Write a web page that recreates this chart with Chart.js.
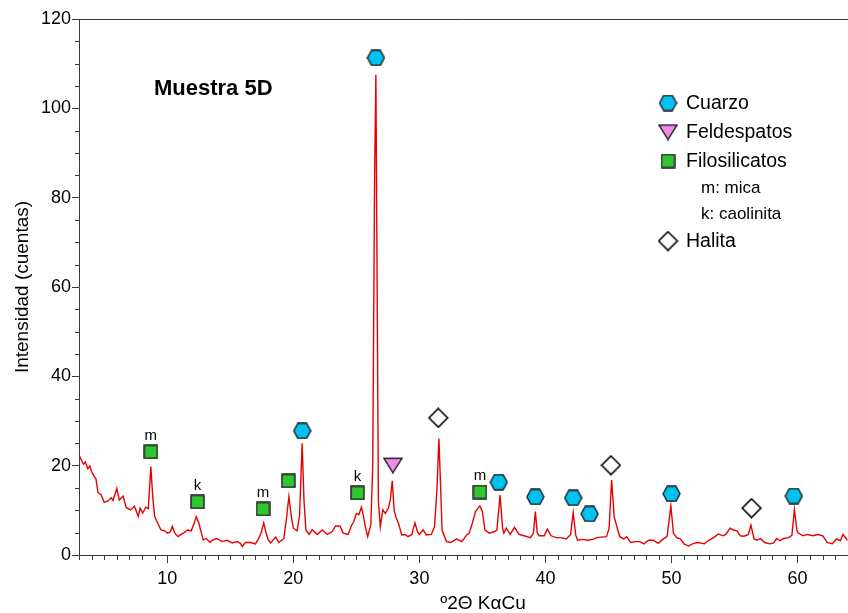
<!DOCTYPE html>
<html>
<head>
<meta charset="utf-8">
<title>Muestra 5D</title>
<script src="https://cdn.jsdelivr.net/npm/chart.js@4.4.1/dist/chart.umd.min.js"></script>
<style>
  html, body { margin: 0; padding: 0; background: #fff; }
  #xrdChart { display: block; }
</style>
</head>
<body>
<canvas id="xrdChart" width="848" height="613"></canvas>
<script>

// difractograma (grados 2theta / cuentas)
var angulo = [
  3.0, 3.2, 3.35, 3.5, 3.7, 3.85, 4.0, 4.2, 4.35, 4.5, 4.75, 5.0, 5.3, 5.55, 5.7, 6.0, 6.2, 6.5, 6.75, 7.1,
  7.4, 7.7, 7.85, 8.05, 8.3, 8.5, 8.7, 8.85, 9.0, 9.25, 9.5, 9.8, 10.05, 10.25, 10.4, 10.6, 10.85, 11.1, 11.3, 11.6,
  11.9, 12.1, 12.3, 12.5, 12.7, 12.85, 13.1, 13.4, 13.55, 13.95, 14.35, 14.75, 15.15, 15.55, 15.8, 15.95, 16.2, 16.6, 17.0, 17.25,
  17.45, 17.65, 17.85, 18.0, 18.2, 18.6, 18.85, 19.25, 19.45, 19.65, 19.85, 20.0, 20.3, 20.5, 20.7, 20.85, 21.0, 21.25, 21.5, 21.9,
  22.3, 22.7, 23.1, 23.35, 23.7, 23.95, 24.35, 24.6, 24.8, 25.0, 25.2, 25.4, 25.55, 25.7, 25.9, 26.15, 26.3, 26.45, 26.55, 26.65,
  26.75, 26.9, 27.1, 27.3, 27.55, 27.7, 27.85, 28.0, 28.15, 28.35, 28.6, 28.85, 29.1, 29.4, 29.65, 29.85, 30.0, 30.3, 30.55, 30.95,
  31.2, 31.4, 31.55, 31.7, 31.8, 32.15, 32.5, 32.95, 33.35, 33.55, 33.75, 33.95, 34.2, 34.45, 34.8, 35.0, 35.2, 35.55, 35.9, 36.15,
  36.4, 36.6, 36.7, 36.9, 37.2, 37.55, 37.9, 38.3, 38.8, 39.05, 39.2, 39.35, 39.5, 39.9, 40.15, 40.45, 40.85, 41.25, 41.65, 42.0,
  42.2, 42.4, 42.55, 42.95, 43.35, 43.75, 44.1, 44.4, 44.85, 45.05, 45.25, 45.45, 45.7, 45.9, 46.2, 46.45, 46.75, 47.15, 47.5, 47.8,
  48.2, 48.55, 48.95, 49.35, 49.65, 49.95, 50.15, 50.4, 50.7, 51.0, 51.35, 51.75, 52.1, 52.6, 52.95, 53.35, 53.7, 54.1, 54.3, 54.65,
  54.9, 55.2, 55.45, 55.75, 56.1, 56.3, 56.55, 56.8, 57.05, 57.4, 57.8, 58.1, 58.35, 58.6, 58.9, 59.3, 59.55, 59.75, 59.95, 60.05,
  60.45, 60.8, 61.2, 61.6, 62.0, 62.35, 62.75, 63.1, 63.4, 63.6, 63.95
];
var cuentas = [
  22.4, 21.2, 20.3, 20.8, 19.3, 19.9, 18.7, 17.6, 17.0, 14.0, 13.5, 11.8, 12.1, 12.8, 12.2, 14.9, 12.3, 13.2, 10.6, 10.1,
  10.9, 8.6, 10.5, 9.4, 10.7, 10.4, 19.8, 13.0, 8.6, 7.1, 5.6, 5.4, 4.9, 5.2, 6.4, 4.9, 4.1, 4.6, 4.9, 5.6,
  5.4, 6.8, 8.6, 7.2, 5.0, 3.4, 3.7, 2.8, 3.3, 3.7, 3.0, 3.3, 2.7, 3.0, 2.6, 1.9, 2.8, 2.8, 2.5, 3.7,
  5.0, 7.2, 4.8, 3.5, 2.7, 4.0, 2.8, 3.7, 8.0, 13.1, 8.5, 6.0, 5.4, 9.0, 25.0, 12.0, 5.6, 4.6, 5.7, 4.6,
  5.6, 4.6, 5.3, 6.5, 6.5, 4.9, 4.6, 6.5, 7.5, 9.3, 9.0, 10.7, 9.0, 6.5, 4.1, 6.8, 20.0, 85.0, 107.5, 60.0,
  12.0, 6.3, 10.1, 9.3, 10.5, 12.5, 16.6, 10.0, 8.4, 7.0, 4.5, 4.6, 4.1, 4.6, 7.2, 5.2, 4.6, 5.6, 4.5, 4.6,
  6.3, 15.0, 26.1, 14.0, 5.6, 3.0, 2.8, 3.6, 3.0, 3.7, 4.5, 4.9, 7.1, 9.7, 11.0, 9.7, 5.6, 4.9, 5.2, 5.6,
  13.4, 6.0, 4.9, 6.0, 4.6, 6.2, 4.6, 4.3, 3.9, 4.9, 9.7, 5.0, 4.3, 4.3, 5.8, 4.3, 3.9, 3.9, 3.6, 4.6,
  9.5, 4.5, 3.3, 3.5, 3.3, 3.5, 3.9, 4.0, 4.1, 6.0, 16.8, 8.6, 6.0, 4.1, 3.6, 4.1, 2.8, 3.0, 3.0, 2.5,
  3.3, 3.3, 2.6, 3.6, 4.1, 11.0, 4.9, 3.9, 3.6, 2.5, 2.0, 2.6, 2.8, 2.5, 3.3, 3.9, 4.7, 4.3, 4.6, 6.0,
  5.6, 5.4, 4.3, 4.2, 4.6, 6.7, 3.6, 3.3, 3.7, 2.8, 2.5, 2.7, 3.7, 3.2, 3.7, 3.9, 4.4, 10.2, 5.5, 4.9,
  4.3, 4.6, 4.3, 4.6, 4.3, 2.8, 2.5, 3.6, 3.2, 4.6, 3.3
];

// picos identificados
var cuarzoX = [20.7, 26.55, 36.3, 39.2, 42.2, 43.5, 50.0, 59.7];
var cuarzoY = [27.8, 111.3, 16.3, 13.0, 12.8, 9.2, 13.7, 13.2];
var feldX = [27.9];
var feldY = [20.1];
var filoX = [8.7, 12.4, 17.6, 19.6, 25.1, 34.8];
var filoY = [23.1, 11.9, 10.3, 16.6, 13.9, 14.1];
var filoTag = ['m', 'k', 'm', '', 'k', 'm'];
var halitaX = [31.5, 45.2, 56.35];
var halitaY = [30.7, 20.1, 10.5];

var nombres = ['Cuarzo', 'Feldespatos', 'Filosilicatos', 'Halita'];
var notasFilo = ['m: mica', 'k: caolinita'];

var marcasX = [10, 20, 30, 40, 50, 60];
var marcasY = [0, 20, 40, 60, 80, 100, 120];
var pasoMenorX = 1;
var pasoMenorY = 5;

var fuente = '"Liberation Sans", Arial, sans-serif';
var colorEje = '#3a3a3a';

function pares(xs, ys){
  return xs.map(function(x, i){ return {x: x, y: ys[i]}; });
}

// simbolos dibujados en un canvas pequeno
function simbolo(tipo){
  var c = document.createElement('canvas');
  var w, h;
  if (tipo === 'hex'){ w = 19; h = 17; }
  else if (tipo === 'tri'){ w = 20; h = 17; }
  else if (tipo === 'rombo'){ w = 21; h = 21; }
  else { w = 15; h = 15; }
  c.width = w; c.height = h;
  var g = c.getContext('2d');
  g.lineWidth = 1.4;
  g.strokeStyle = '#1a1a1a';
  g.beginPath();
  if (tipo === 'hex'){
    g.moveTo(1, h/2); g.lineTo(w*0.27, 1); g.lineTo(w*0.73, 1);
    g.lineTo(w-1, h/2); g.lineTo(w*0.73, h-1); g.lineTo(w*0.27, h-1);
    g.fillStyle = '#00c2f2';
  } else if (tipo === 'tri'){
    g.moveTo(1, 1.5); g.lineTo(w-1, 1.5); g.lineTo(w/2, h-1);
    g.fillStyle = '#ef8ced';
  } else if (tipo === 'rombo'){
    g.lineWidth = 1.6;
    g.strokeStyle = '#000';
    g.moveTo(w/2, 1.2); g.lineTo(w-1.2, h/2); g.lineTo(w/2, h-1.2); g.lineTo(1.2, h/2);
    g.fillStyle = '#ffffff';
  } else {
    g.rect(1, 1, w-2, h-2);
    g.fillStyle = '#33c633';
  }
  g.closePath();
  g.fill();
  g.stroke();
  return c;
}

var simHex = simbolo('hex');
var simTri = simbolo('tri');
var simCuad = simbolo('cuad');
var simRombo = simbolo('rombo');

var extras = {
  id: 'extras',
  afterDraw: function(chart){
    var ctx = chart.ctx;
    var a = chart.chartArea;
    var sx = chart.scales.x, sy = chart.scales.y;
    ctx.save();

    // linea superior del marco
    ctx.strokeStyle = colorEje;
    ctx.lineWidth = 1;
    ctx.beginPath();
    ctx.moveTo(a.left, a.top + 0.5);
    ctx.lineTo(a.right, a.top + 0.5);
    ctx.stroke();

    // marcas menores
    ctx.beginPath();
    for (var v = Math.ceil(sx.min); v <= sx.max; v += pasoMenorX){
      if (marcasX.indexOf(v) >= 0) continue;
      var px = Math.round(sx.getPixelForValue(v)) + 0.5;
      ctx.moveTo(px, a.bottom); ctx.lineTo(px, a.bottom + 5);
    }
    for (var w = sy.min; w <= sy.max; w += pasoMenorY){
      if (marcasY.indexOf(w) >= 0) continue;
      var py = Math.round(sy.getPixelForValue(w)) + 0.5;
      ctx.moveTo(a.left, py); ctx.lineTo(a.left - 4, py);
    }
    ctx.stroke();

    ctx.fillStyle = '#000';
    ctx.textBaseline = 'middle';

    // titulo de la muestra
    ctx.font = 'bold 22px ' + fuente;
    ctx.textAlign = 'left';
    ctx.fillText('Muestra 5D', a.left + 75, a.top + 70);

    // titulo eje x
    ctx.font = '19px ' + fuente;
    ctx.textAlign = 'center';
    ctx.fillText('º2Θ KαCu', a.left + 404, 604);

    // etiquetas m / k sobre los filosilicatos
    ctx.font = '15px ' + fuente;
    var meta = chart.getDatasetMeta(3);
    meta.data.forEach(function(p, i){
      if (filoTag[i]) ctx.fillText(filoTag[i], p.x, p.y - 16);
    });

    // leyenda
    var lx = 668, tx = 686;
    var filas = [[simHex, nombres[0], 103], [simTri, nombres[1], 132], [simCuad, nombres[2], 161], [simRombo, nombres[3], 241]];
    ctx.textAlign = 'left';
    ctx.font = '19.5px ' + fuente;
    filas.forEach(function(f){
      ctx.drawImage(f[0], lx - f[0].width/2, f[2] - f[0].height/2);
      ctx.fillText(f[1], tx, f[2] + 1);
    });
    ctx.font = '17px ' + fuente;
    ctx.fillText(notasFilo[0], 701, 188);
    ctx.fillText(notasFilo[1], 701, 214);

    ctx.restore();
  }
};

Chart.defaults.font.family = fuente;

var ctx = document.getElementById('xrdChart').getContext('2d');
var chart = new Chart(ctx, {
  type: 'scatter',
  data: {
    datasets: [
      {
        label: 'Muestra 5D',
        data: pares(angulo, cuentas),
        showLine: true,
        borderColor: 'rgb(232,0,0)',
        borderWidth: 1.4,
        pointRadius: 0,
        tension: 0,
        order: 5
      },
      { label: nombres[0], data: pares(cuarzoX, cuarzoY), pointStyle: simHex, pointRadius: 8, order: 1 },
      { label: nombres[1], data: pares(feldX, feldY), pointStyle: simTri, pointRadius: 8, order: 1 },
      { label: nombres[2], data: pares(filoX, filoY), pointStyle: simCuad, pointRadius: 8, order: 1 },
      { label: nombres[3], data: pares(halitaX, halitaY), pointStyle: simRombo, pointRadius: 8, order: 1 }
    ]
  },
  options: {
    responsive: false,
    animation: false,
    layout: { autoPadding: false, padding: { top: 19, right: 0, left: 0, bottom: 0 } },
    plugins: {
      legend: { display: false },
      tooltip: { enabled: false }
    },
    scales: {
      x: {
        type: 'linear',
        min: 3,
        max: 64,
        afterFit: function(s){ s.height = 58; s.paddingRight = 0; s.paddingLeft = 0; },
        afterBuildTicks: function(s){ s.ticks = marcasX.map(function(v){ return {value: v}; }); },
        border: { color: colorEje, width: 1 },
        grid: { drawOnChartArea: false, tickLength: 8, tickColor: colorEje },
        ticks: { color: '#000', font: { size: 18 }, padding: 5, maxRotation: 0, autoSkip: false }
      },
      y: {
        type: 'linear',
        min: 0,
        max: 120,
        afterFit: function(s){ s.width = 79; },
        afterBuildTicks: function(s){ s.ticks = marcasY.map(function(v){ return {value: v}; }); },
        border: { color: colorEje, width: 1 },
        grid: { drawOnChartArea: false, tickLength: 7, tickColor: colorEje },
        ticks: { color: '#000', font: { size: 18 }, padding: 1 },
        title: {
          display: true,
          text: 'Intensidad (cuentas)',
          color: '#000',
          font: { size: 19 },
          padding: { top: 11, bottom: 0 }
        }
      }
    }
  },
  plugins: [extras]
});

</script>
</body>
</html>
